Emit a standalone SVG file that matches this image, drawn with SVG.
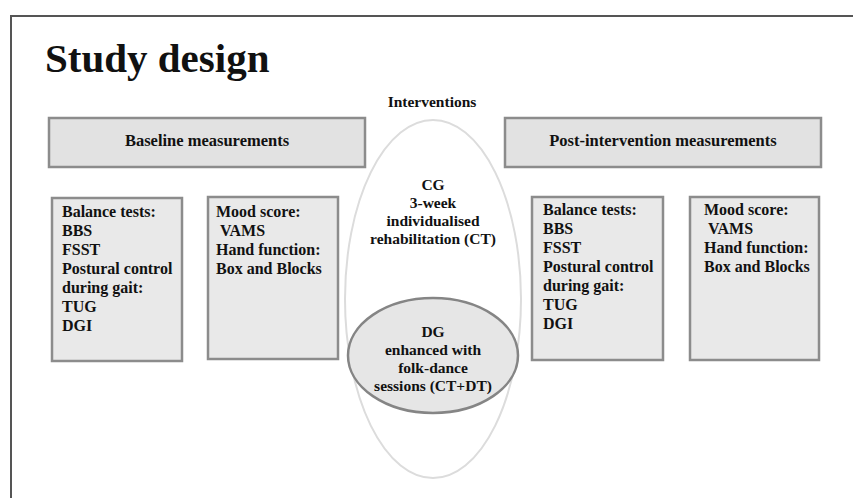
<svg xmlns="http://www.w3.org/2000/svg" width="853" height="498" viewBox="0 0 853 498">
<style>
  text { font-family: "Liberation Serif", "Times New Roman", serif; font-weight: bold; fill: #111; }
  .title { font-size: 41px; }
  .hdr { font-size: 16.5px; text-anchor: middle; }
  .body { font-size: 16px; }
  .ell { font-size: 15.5px; text-anchor: middle; }
  .hbox { fill: #e2e2e2; stroke: #8c8c8c; stroke-width: 2.5; }
  .box { fill: #e9e9e9; stroke: #8c8c8c; stroke-width: 2.5; }
</style>
<rect width="853" height="498" fill="#ffffff"/>
<path d="M11,498 V16 H853" fill="none" stroke="#555" stroke-width="2"/>
<text class="title" x="45" y="72">Study design</text>
<text class="hdr" x="432" y="107" style="font-size:15.5px">Interventions</text>

<g id="interventions">
  <ellipse cx="433" cy="299" rx="88" ry="179" fill="none" stroke="#dcdcdc" stroke-width="2"/>
</g>

<g id="baseline">
  <rect class="hbox" x="49" y="118" width="316" height="49"/>
  <text class="hdr" x="207" y="146">Baseline measurements</text>
</g>
<g id="post">
  <rect class="hbox" x="505" y="118" width="316" height="49"/>
  <text class="hdr" x="663" y="146">Post-intervention measurements</text>
</g>

<g id="baseline-balance">
  <rect class="box" x="52" y="198" width="130" height="163"/>
  <text class="body" x="62" y="217">Balance tests:</text>
  <text class="body" x="62" y="236">BBS</text>
  <text class="body" x="62" y="255">FSST</text>
  <text class="body" x="62" y="274">Postural control</text>
  <text class="body" x="62" y="293">during gait:</text>
  <text class="body" x="62" y="312">TUG</text>
  <text class="body" x="62" y="331">DGI</text>
</g>
<g id="baseline-mood">
  <rect class="box" x="208" y="197" width="130" height="162"/>
  <text class="body" x="216" y="217">Mood score:</text>
  <text class="body" x="220" y="236">VAMS</text>
  <text class="body" x="216" y="255">Hand function:</text>
  <text class="body" x="216" y="274">Box and Blocks</text>
</g>

<g id="cg">
  <text class="ell" x="433" y="190">CG</text>
  <text class="ell" x="433" y="208">3-week</text>
  <text class="ell" x="433" y="226">individualised</text>
  <text class="ell" x="433" y="244">rehabilitation (CT)</text>
</g>
<g id="dg">
  <ellipse cx="433" cy="355.5" rx="85" ry="57.5" fill="#e6e6e6" stroke="#858585" stroke-width="2.5"/>
  <text class="ell" x="433" y="337">DG</text>
  <text class="ell" x="433" y="355">enhanced with</text>
  <text class="ell" x="433" y="373">folk-dance</text>
  <text class="ell" x="433" y="391">sessions (CT+DT)</text>
</g>

<g id="post-balance">
  <rect class="box" x="532" y="197" width="131" height="163"/>
  <text class="body" x="543" y="215">Balance tests:</text>
  <text class="body" x="543" y="234">BBS</text>
  <text class="body" x="543" y="253">FSST</text>
  <text class="body" x="543" y="272">Postural control</text>
  <text class="body" x="543" y="291">during gait:</text>
  <text class="body" x="543" y="310">TUG</text>
  <text class="body" x="543" y="329">DGI</text>
</g>
<g id="post-mood">
  <rect class="box" x="690" y="197" width="129" height="163"/>
  <text class="body" x="704" y="215">Mood score:</text>
  <text class="body" x="708" y="234">VAMS</text>
  <text class="body" x="704" y="253">Hand function:</text>
  <text class="body" x="704" y="272">Box and Blocks</text>
</g>

<g id="connectors"></g>
</svg>
